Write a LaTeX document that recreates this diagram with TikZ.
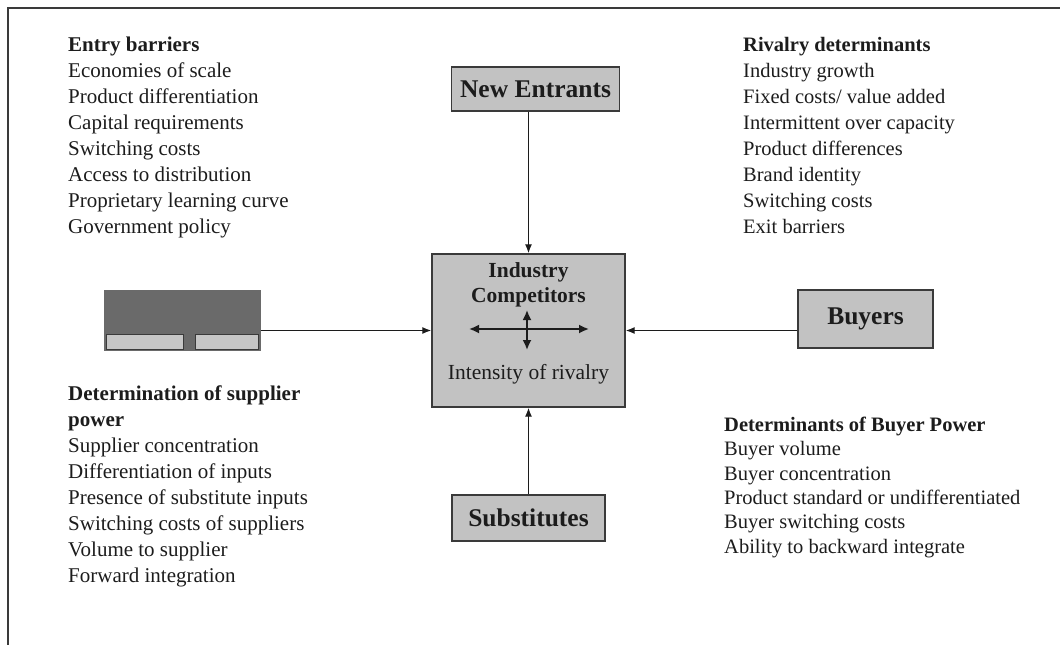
\documentclass[tikz,border=0pt]{standalone}
\usepackage{fontspec}
\setmainfont{Liberation Serif}
\usetikzlibrary{arrows.meta}
\definecolor{ink}{HTML}{1C1C1C}
\definecolor{boxfill}{HTML}{C2C2C2}
\definecolor{boxline}{HTML}{3A3A3A}
\definecolor{darkfill}{HTML}{6A6A6A}
\definecolor{lightstrip}{HTML}{C6C6C6}
\tikzset{
  forcebox/.style={draw=boxline, line width=1.4pt, fill=boxfill, text=ink, inner sep=0pt,
    font=\fontsize{25.5}{28}\selectfont\bfseries},
  listtext/.style={anchor=north west, align=left, inner sep=0pt, text=ink,
    font=\fontsize{20.5}{26}\selectfont},
  conn/.style={draw=ink, line width=1.3pt, -{Latex[length=9pt,width=7pt]}},
  inner/.style={draw=ink, line width=1.8pt, {Latex[length=10pt,width=9pt]}-{Latex[length=10pt,width=9pt]}},
  frame/.style={draw=boxline, line width=1.6pt}
}
\begin{document}
\begin{tikzpicture}[x=1pt,y=-1pt]
\useasboundingbox (0,0) rectangle (1060,645);
% frame
\coordinate (fbl) at (8,645);
\coordinate (ftl) at (8,8);
\coordinate (ftr) at (1060,8);
\draw[frame] (fbl) -- (ftl) -- (ftr);

% central box
\node[forcebox, minimum width=193pt, minimum height=153pt] (ic) at (528.5,330.5) {};
\node[font=\fontsize{21.5}{24.5}\selectfont\bfseries, text=ink, align=center, inner sep=0pt] (ictitle) at (528.5,285) {Industry\\Competitors};
\node[font=\fontsize{21.5}{24}\selectfont, text=ink, inner sep=0pt] (icsub) at (528.5,374) {Intensity of rivalry};
\coordinate (hl) at (469,329);
\coordinate (hr) at (589,329);
\coordinate (vt) at (527,310);
\coordinate (vb) at (527,350);
\draw[inner] (hl) -- (hr);
\draw[inner] (vt) -- (vb);

% outer boxes
\node[forcebox, minimum width=168pt, minimum height=44pt] (ne) at (535.5,89) {New Entrants};
\node[forcebox, minimum width=135pt, minimum height=58pt] (buy) at (865.5,319) {Buyers};
\node[forcebox, minimum width=153pt, minimum height=46pt] (sub) at (528.5,518) {Substitutes};
% supplier box (obscured)
\node[fill=darkfill, draw=darkfill, line width=1pt, minimum width=156pt, minimum height=60pt, inner sep=0pt] (sup) at (182,320) {};
\fill[lightstrip, draw=boxline, line width=0.8pt] (106,334) rectangle (183,349);
\fill[lightstrip, draw=boxline, line width=0.8pt] (195,334) rectangle (258,349);

% connectors
\draw[conn] (ne.south -| ic.north) -- (ic.north);
\draw[conn] (sub.north -| ic.south) -- (ic.south);
\draw[conn] (sup.east |- ic.west) -- (ic.west);
\draw[conn] (buy.west |- ic.east) -- (ic.east);

% text blocks
\node[listtext, font=\fontsize{21}{26}\selectfont] (entry) at (68,37) {\textbf{Entry barriers}\\Economies of scale\\Product differentiation\\Capital requirements\\Switching costs\\Access to distribution\\Proprietary learning curve\\Government policy};
\node[listtext] (rival) at (743,37) {\textbf{Rivalry determinants}\\Industry growth\\Fixed costs/ value added\\Intermittent over capacity\\Product differences\\Brand identity\\Switching costs\\Exit barriers};
\node[listtext, font=\fontsize{21}{26}\selectfont] (supp) at (68,386) {\textbf{Determination of supplier}\\\textbf{power}\\Supplier concentration\\Differentiation of inputs\\Presence of substitute inputs\\Switching costs of suppliers\\Volume to supplier\\Forward integration};
\node[listtext, font=\fontsize{20.5}{24.3}\selectfont] (buyp) at (724,417) {\textbf{Determinants of Buyer Power}\\Buyer volume\\Buyer concentration\\Product standard or undifferentiated\\Buyer switching costs\\Ability to backward integrate};
\end{tikzpicture}
\end{document}
